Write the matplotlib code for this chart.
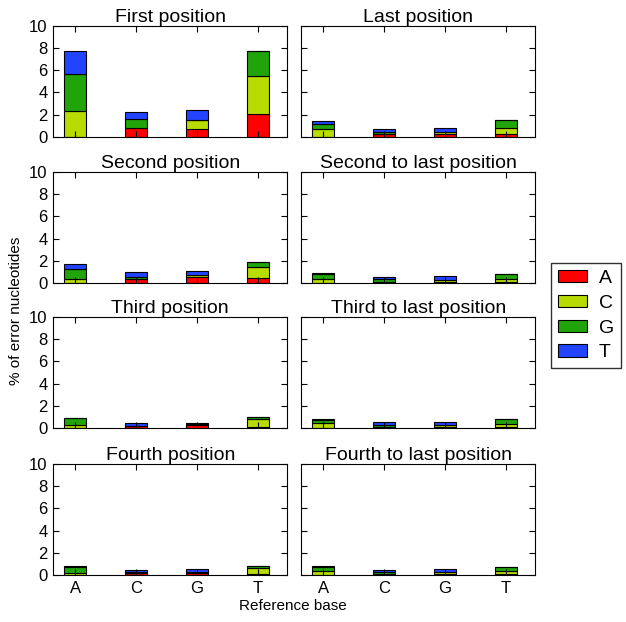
# Error nucleotide composition by read position
import numpy as np
import matplotlib
matplotlib.use('Agg')
import matplotlib.pyplot as plt

plt.rcParams['font.family'] = ['Liberation Sans', 'DejaVu Sans']

# data: % of error nucleotides, rows = error base (A, C, G, T), cols = reference base
bases = ['A', 'C', 'G', 'T']
titles = ['First position', 'Last position',
          'Second position', 'Second to last position',
          'Third position', 'Third to last position',
          'Fourth position', 'Fourth to last position']

first_pos = [[0, 0.8, 0.7, 2.1],
             [2.3, 0, 0.8, 3.4],
             [3.4, 0.8, 0, 2.2],
             [2.0, 0.6, 0.9, 0]]
last_pos = [[0, 0.25, 0.25, 0.25],
            [0.7, 0, 0.2, 0.55],
            [0.5, 0.2, 0, 0.7],
            [0.25, 0.25, 0.35, 0]]
second_pos = [[0, 0.33, 0.5, 0.42],
              [0.4, 0, 0.2, 1.0],
              [0.85, 0.22, 0, 0.46],
              [0.46, 0.45, 0.36, 0]]
second_last = [[0, 0.1, 0.1, 0.05],
               [0.4, 0, 0.2, 0.3],
               [0.45, 0.25, 0, 0.5],
               [0.05, 0.2, 0.3, 0]]
third_pos = [[0, 0.15, 0.3, 0.1],
             [0.3, 0, 0.05, 0.7],
             [0.55, 0.05, 0, 0.2],
             [0.05, 0.2, 0.1, 0]]
third_last = [[0, 0.1, 0.1, 0.1],
              [0.4, 0, 0.2, 0.25],
              [0.35, 0.2, 0, 0.45],
              [0.05, 0.2, 0.2, 0]]
fourth_pos = [[0, 0.2, 0.2, 0.1],
              [0.2, 0, 0.05, 0.55],
              [0.55, 0.05, 0, 0.2],
              [0.05, 0.2, 0.25, 0]]
fourth_last = [[0, 0.1, 0.1, 0.1],
               [0.35, 0, 0.2, 0.25],
               [0.4, 0.2, 0, 0.4],
               [0.05, 0.15, 0.2, 0]]

panels = [first_pos, last_pos, second_pos, second_last,
          third_pos, third_last, fourth_pos, fourth_last]
colors = ['#ff0000', '#b8dc00', '#20a40a', '#2243ff']

fig = plt.figure(figsize=(6.26, 6.22), dpi=100)
lefts = [0.085, 0.481]
bottoms = [0.780, 0.545, 0.312, 0.0756]
w, h = 0.374, 0.1785

x = np.arange(4)
for i, data in enumerate(panels):
    ax = fig.add_axes([lefts[i % 2], bottoms[i // 2], w, h])
    bottom = np.zeros(4)
    for j, vals in enumerate(data):
        ax.bar(x, vals, 0.36, bottom=bottom, color=colors[j],
               edgecolor='black', linewidth=0.8, label=bases[j])
        bottom += np.array(vals)
    ax.set_xlim(-0.36, 3.48)
    ax.set_ylim(0, 10)
    ax.set_yticks([0, 2, 4, 6, 8, 10])
    ax.set_xticks(x)
    ax.tick_params(direction='in', top=True, right=True, length=4,
                   labelsize=12, pad=4)
    if i % 2 == 1:
        ax.set_yticklabels([])
    if i // 2 < 3:
        ax.set_xticklabels([])
    else:
        ax.set_xticklabels(bases)
    ax.set_title(titles[i], fontsize=14, pad=3)
    if i == 0:
        handles, labels = ax.get_legend_handles_labels()

fig.legend(handles, labels, loc='center left', bbox_to_anchor=(0.88, 0.4925),
           fontsize=14, frameon=True, fancybox=False, edgecolor='black',
           handlelength=1.5, handleheight=0.6, handletextpad=0.6,
           labelspacing=0.4, borderpad=0.35, borderaxespad=0)
fig.text(0.025, 0.5, '% of error nucleotides', rotation=90, va='center',
         ha='center', fontsize=11)
fig.text(0.468, 0.025, 'Reference base', ha='center', va='center', fontsize=11)

fig.savefig('out.png', dpi=100, facecolor='white')
